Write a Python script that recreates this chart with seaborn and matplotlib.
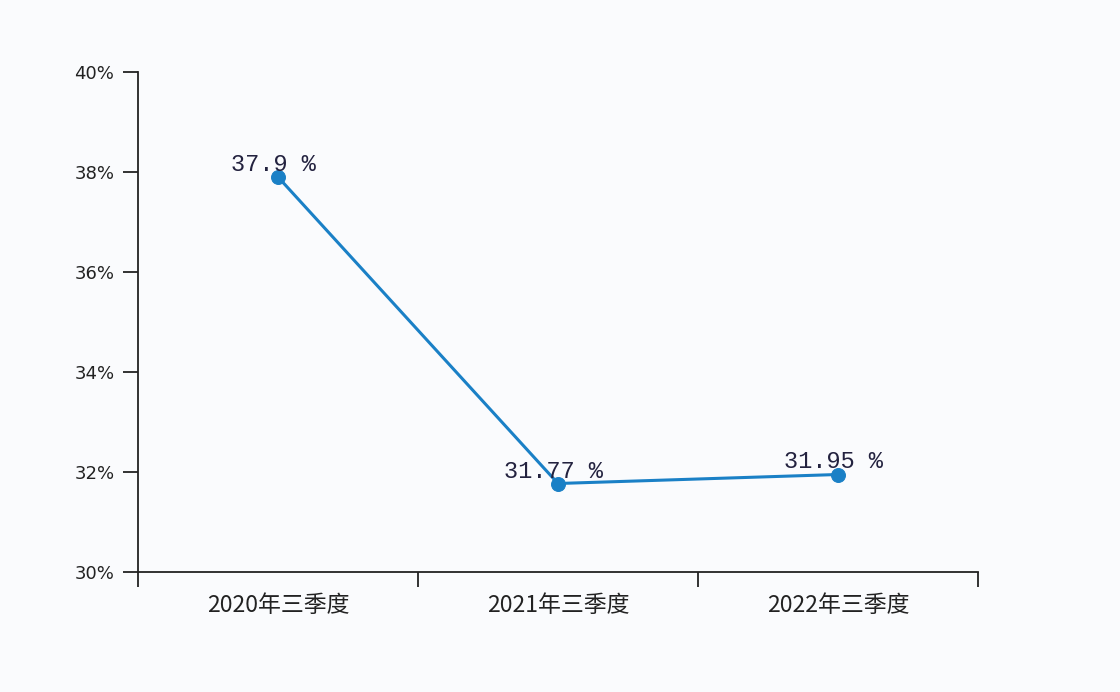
import numpy as np
import pandas as pd
import seaborn as sns
import matplotlib.pyplot as plt
from matplotlib.ticker import FixedLocator

# data
quarters = ["2020年三季度", "2021年三季度", "2022年三季度"]
rates = [37.9, 31.77, 31.95]
rate_labels = ["37.9 %", "31.77 %", "31.95 %"]

df = pd.DataFrame({"quarter": quarters, "rate": rates})

sns.set_theme(style="white")
plt.rcParams['font.family'] = ['Noto Sans CJK SC', 'DejaVu Sans']

bg = "#fafbfd"
line_color = "#1a80c6"
axis_color = "#222222"

fig = plt.figure(figsize=(11.2, 6.92), dpi=100, facecolor=bg)
ax = fig.add_axes([138 / 1120, 1 - 572 / 692, 840 / 1120, 500 / 692])
ax.set_facecolor(bg)

sns.lineplot(data=df, x="quarter", y="rate", ax=ax, color=line_color,
             linewidth=2.2, marker="o", markersize=10,
             markeredgecolor=line_color, markerfacecolor=line_color)

for i, (v, lab) in enumerate(zip(rates, rate_labels)):
    ax.annotate(lab, (i, v), xytext=(-3, 9), textcoords="offset points",
                ha="center", va="center", fontsize=17,
                family=["Liberation Mono", "DejaVu Sans Mono"], color="#23223f")

ax.set_xlim(-0.5, len(quarters) - 0.5)
ax.set_ylim(30, 40)
ax.set_yticks(np.arange(30, 41, 2))
ax.set_yticklabels([f"{t}%" for t in range(30, 41, 2)], fontsize=13,
                   family=["DejaVu Sans"], color="#222222")

ax.set_xticks(range(len(quarters)))
ax.set_xticklabels(quarters, fontsize=16.5, color="#222222")
ax.xaxis.set_minor_locator(FixedLocator(np.arange(-0.5, len(quarters), 1.0)))

ax.tick_params(axis="x", which="major", length=0, pad=16)
ax.tick_params(axis="x", which="minor", length=11, width=1.3, color=axis_color,
               direction="out", bottom=True)
ax.tick_params(axis="y", which="major", length=11, width=1.3, color=axis_color,
               direction="out", left=True, pad=6)

for side in ["top", "right"]:
    ax.spines[side].set_visible(False)
for side in ["left", "bottom"]:
    ax.spines[side].set_color(axis_color)
    ax.spines[side].set_linewidth(1.3)

ax.set_xlabel("")
ax.set_ylabel("")
ax.grid(False)

fig.savefig("out.png", dpi=100, facecolor=bg)
